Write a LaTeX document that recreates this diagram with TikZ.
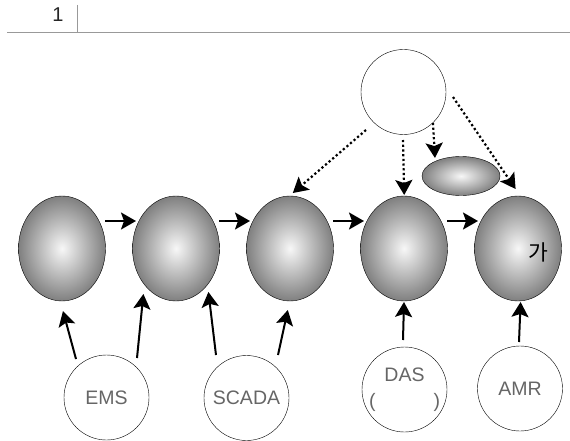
\documentclass[tikz,border=0pt]{standalone}
\usepackage{fontspec}
\setmainfont{Liberation Sans}
\newfontfamily\krfont{Noto Sans CJK KR}
\usetikzlibrary{positioning, shapes.geometric, arrows.meta}

\begin{document}
\begin{tikzpicture}[
    x=1pt, y=-1pt,
    >={Stealth[length=15pt, width=17pt, inset=3pt]}, % Filled arrow heads
    % Styles
    ball/.style={ % Shaded process node
        ellipse,
        minimum width=87pt,
        minimum height=105pt,
        inner sep=0pt,
        draw,
        shading=radial,
        inner color=gray!6,
        outer color=black!50
    },
    src/.style={ % Data source node
        circle,
        minimum size=85pt,
        inner sep=0pt,
        draw,
        fill=white,
        text=black!60,
        font=\fontsize{19.5}{26}\selectfont
    },
    arrow/.style={
        ->,
        line width=2pt
    },
    feed/.style={ % Dotted control arrows
        arrow,
        line width=2.2pt,
        dash pattern=on 2.2pt off 2.5pt
    }
]
    \useasboundingbox (0,0) rectangle (570,441);

    % Page header
    \node[font=\fontsize{20}{24}\selectfont, text=black!85] (pg) at (58,15) {1};
    \draw[black!40, line width=1pt] (77,5) -- (77,33);
    \draw[black!40, line width=1pt] (7,33) -- (570,33);

    % Control node and sub node
    \node[circle, minimum size=85pt, inner sep=0pt, draw, fill=white] (ctl) at (403.5,92) {};
    \node[ball, minimum width=78pt, minimum height=39pt] (sub) at (461,176) {};

    % Process chain
    \node[ball] (g1) at (62,248.5) {};
    \node[ball] (g2) [right=26.6pt of g1] {};
    \node[ball] (g3) [right=26.6pt of g2] {};
    \node[ball] (g4) [right=26.6pt of g3] {};
    \node[ball] (g5) [right=26.6pt of g4] {};
    \node[font=\krfont\fontsize{21.5}{24}\selectfont] (ga) at ([shift={(20.5,3.5)}]g5.center) {가};

    % Data sources
    \node[src] (ems) at (106.5,397.5) {EMS};
    \node[src] (scada) at (246.5,398) {SCADA};
    \node[src, align=center] (das) at (404.5,389.5) {DAS\\\makebox[71pt]{(\hfill)}};
    \node[src] (amr) at (520,388.5) {AMR};

    % Chain edges
    \foreach \a/\b in {g1/g2, g2/g3, g3/g4, g4/g5}
        \draw[arrow] ([shift={(43,-27.5)}]\a.center) -- ([shift={(-40,-27.5)}]\b.center);

    % Source edges
    \draw[arrow] ([shift={(-30.5,-38.5)}]ems.center) -- ([shift={(1,62.5)}]g1.center);
    \draw[arrow] ([shift={(30.5,-39.5)}]ems.center) -- ([shift={(-32.6,45.5)}]g2.center);
    \draw[arrow] ([shift={(-30.5,-43)}]scada.center) -- ([shift={(32.4,43.5)}]g2.center);
    \draw[arrow] ([shift={(31.5,-43)}]scada.center) -- ([shift={(-2.2,61.5)}]g3.center);
    \draw[arrow] ([shift={(-1.5,-49.5)}]das.center) -- ([shift={(0,53.5)}]g4.center);
    \draw[arrow] ([shift={(-1,-46.5)}]amr.center) -- ([shift={(2.6,53.5)}]g5.center);

    % Control edges
    \draw[feed] ([shift={(-37.5,38)}]ctl.center) -- ([shift={(2.8,-55.5)}]g3.center);
    \draw[feed] ([shift={(-0.5,48)}]ctl.center) -- ([shift={(0.2,-53.5)}]g4.center);
    \draw[feed] ([shift={(29.5,31)}]ctl.center) -- ([shift={(-26,-18)}]sub.center);
    \draw[feed] ([shift={(49.5,5)}]ctl.center) -- ([shift={(-2.4,-59.5)}]g5.center);
\end{tikzpicture}
\end{document}
